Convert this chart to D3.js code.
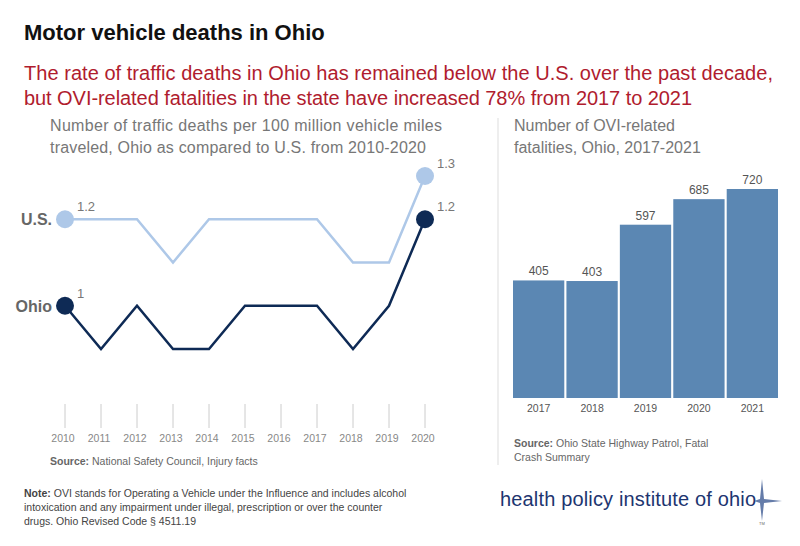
<!DOCTYPE html>
<html><head><meta charset="utf-8">
<script src="https://cdn.jsdelivr.net/npm/d3@7"></script>
<style>body{margin:0;background:#fff}svg{font-family:"Liberation Sans",Arial,sans-serif}</style>
</head><body><svg id="c" width="800" height="546"></svg>
<script>
var years = [2010, 2011, 2012, 2013, 2014, 2015, 2016, 2017, 2018, 2019, 2020];
var usRate = [1.2, 1.2, 1.2, 1.1, 1.2, 1.2, 1.2, 1.2, 1.1, 1.1, 1.3];
var ohioRate = [1.0, 0.9, 1.0, 0.9, 0.9, 1.0, 1.0, 1.0, 0.9, 1.0, 1.2];
var oviYears = ['2017', '2018', '2019', '2020', '2021'];
var oviDeaths = [405, 403, 597, 685, 720];

var svg = d3.select('#c');
var grey = '#777';

svg.append('text').attr('x', 24).attr('y', 40).attr('font-size', 22).attr('font-weight', 700).attr('fill', '#111').text('Motor vehicle deaths in Ohio');
svg.append('text').attr('x', 24).attr('y', 80).attr('font-size', 20).attr('fill', '#b01c2e').attr('textLength', 749).text('The rate of traffic deaths in Ohio has remained below the U.S. over the past decade,');
svg.append('text').attr('x', 24).attr('y', 105).attr('font-size', 20).attr('fill', '#b01c2e').attr('textLength', 668).text('but OVI-related fatalities in the state have increased 78% from 2017 to 2021');

svg.append('text').attr('x', 50).attr('y', 131).attr('font-size', 16).attr('fill', grey).attr('textLength', 392).text('Number of traffic deaths per 100 million vehicle miles');
svg.append('text').attr('x', 50).attr('y', 153).attr('font-size', 16).attr('fill', grey).attr('textLength', 376).text('traveled, Ohio as compared to U.S. from 2010-2020');

// line chart
var x = d3.scaleLinear().domain([2010, 2020]).range([65, 425]);
var y = d3.scaleLinear().domain([0.9, 1.3]).range([349, 176]);

var ticks = svg.append('g');
ticks.selectAll('line').data(years).enter().append('line')
    .attr('x1', function (d) { return x(d); }).attr('x2', function (d) { return x(d); })
    .attr('y1', 404).attr('y2', 428).attr('stroke', '#ccc');
ticks.selectAll('text').data(years).enter().append('text')
    .attr('x', function (d) { return x(d) - 2; }).attr('y', 442).attr('text-anchor', 'middle')
    .attr('font-size', 10.5).attr('fill', '#888').text(function (d) { return d; });

var line = d3.line().x(function (d, i) { return x(years[i]); }).y(function (d) { return y(d); });
[[usRate, '#aec8e8', 'U.S.'], [ohioRate, '#0e2a55', 'Ohio']].forEach(function (s) {
    var vals = s[0];
    svg.append('path').attr('d', line(vals)).attr('fill', 'none').attr('stroke', s[1]).attr('stroke-width', 2.5);
    [0, vals.length - 1].forEach(function (i) {
        svg.append('circle').attr('cx', x(years[i])).attr('cy', y(vals[i])).attr('r', 9).attr('fill', s[1]);
        svg.append('text').attr('x', x(years[i]) + 12).attr('y', y(vals[i]) - 8).attr('font-size', 13)
            .attr('fill', grey).text(d3.format('~g')(vals[i]));
    });
    svg.append('text').attr('x', 52).attr('y', y(vals[0]) + 6).attr('text-anchor', 'end')
        .attr('font-size', 16).attr('font-weight', 700).attr('fill', '#666').text(s[2]);
});

svg.append('text').attr('x', 50).attr('y', 465).attr('font-size', 10.5).attr('fill', '#666')
    .html('<tspan font-weight="700">Source:</tspan> National Safety Council, Injury facts');

// divider
svg.append('line').attr('x1', 498).attr('x2', 498).attr('y1', 118).attr('y2', 465).attr('stroke', '#ddd');

// bar chart
svg.append('text').attr('x', 514).attr('y', 131).attr('font-size', 16).attr('fill', grey).text('Number of OVI-related');
svg.append('text').attr('x', 514).attr('y', 153).attr('font-size', 16).attr('fill', grey).text('fatalities, Ohio, 2017-2021');

var bx = d3.scaleBand().domain(oviYears).range([513, 778]).paddingInner(0.04);
var by = d3.scaleLinear().domain([0, 720]).range([398, 189]);
var bars = svg.append('g');
bars.selectAll('rect').data(oviDeaths).enter().append('rect')
    .attr('x', function (d, i) { return bx(oviYears[i]); }).attr('width', bx.bandwidth())
    .attr('y', function (d) { return by(d); }).attr('height', function (d) { return 398 - by(d); })
    .attr('fill', '#5b87b3');
bars.selectAll('text.v').data(oviDeaths).enter().append('text')
    .attr('x', function (d, i) { return bx(oviYears[i]) + bx.bandwidth() / 2; }).attr('y', function (d) { return by(d) - 5; })
    .attr('text-anchor', 'middle').attr('font-size', 12).attr('fill', '#555').text(function (d) { return d; });
svg.append('g').attr('transform', 'translate(0,398)')
    .call(d3.axisBottom(bx).tickSize(0).tickPadding(7))
    .call(function (g) { g.select('.domain').remove(); g.selectAll('text').attr('font-size', 10.5).attr('fill', '#555').attr('font-family', 'Liberation Sans'); });

svg.append('text').attr('x', 514).attr('y', 447).attr('font-size', 10.5).attr('fill', '#666')
    .html('<tspan font-weight="700">Source:</tspan> Ohio State Highway Patrol, Fatal');
svg.append('text').attr('x', 514).attr('y', 461).attr('font-size', 10.5).attr('fill', '#666').text('Crash Summary');

// note
var note = ['<tspan font-weight="700">Note:</tspan> OVI stands for Operating a Vehicle under the Influence and includes alcohol',
    'intoxication and any impairment under illegal, prescription or over the counter',
    'drugs. Ohio Revised Code § 4511.19'];
note.forEach(function (t, i) {
    svg.append('text').attr('x', 24).attr('y', 497 + i * 14).attr('font-size', 10.5).attr('fill', '#444').html(t);
});

// logo
svg.append('text').attr('x', 500).attr('y', 506).attr('font-size', 20).attr('fill', '#1d3570').attr('textLength', 256).text('health policy institute of ohio');
var lg = svg.append('g').attr('transform', 'translate(762,501)').attr('fill', '#3f5b93');
lg.append('path').attr('d', 'M0,-22 L2,-2 L20,0 L2,2 L0,20 L-2,2 L-8,0 L-2,-2 Z').attr('opacity', 0.8);
lg.append('text').attr('x', -3).attr('y', 24).attr('font-size', 4).attr('fill', '#666').text('TM');
</script></body></html>
